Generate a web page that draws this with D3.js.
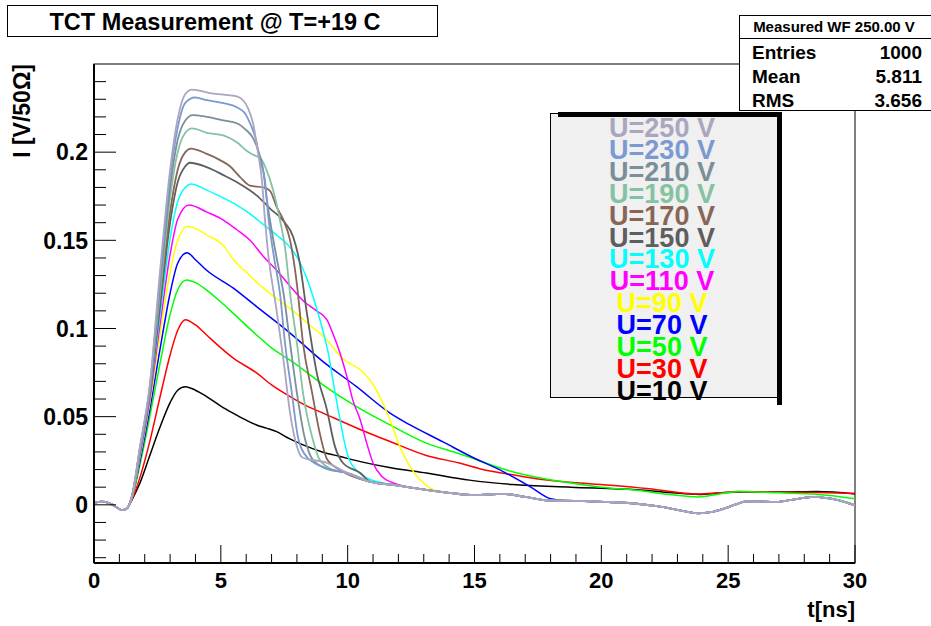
<!DOCTYPE html>
<html>
<head>
<meta charset="utf-8">
<script src="https://cdn.jsdelivr.net/npm/d3@7"></script>
<style>
  body { margin: 0; background: #fff; }
  text { font-family: "Liberation Sans", Arial, Helvetica, sans-serif; font-weight: bold; }
</style>
</head>
<body>
<div class="chartWrap"></div>
<script>
//Data: t in ns, I in V/50 Ohm
const voltages = [10, 30, 50, 70, 90, 110, 130, 150, 170, 190, 210, 230, 250];
const colors = ["#000000", "#ff0000", "#00ff00", "#0000ff", "#ffff00", "#ff00ff", "#00ffff",
                "#5e5e5e", "#876656", "#85c2a3", "#7a8f99", "#7d99d1", "#aba6bf"];

//shared pre-pulse part and shared tail of the fast (high voltage) curves
const lead = [[0,0.001],[0.3,0.0018],[0.6,0.001],[0.9,-0.0015],[1.1,-0.003],[1.3,-0.002]];
const bundle = [[8.2,0.027],[9.2,0.0237],[10.0,0.018],[10.9,0.013],[11.8,0.0113],[12.5,0.0098],[13.1,0.0085],
  [14.0,0.0068],[15.0,0.0055],[16.1,0.0062],[17.0,0.0045],[17.9,0.0025],[19.0,0.0022],[20.1,0.0017],
  [21.4,0.0006],[22.2,-0.0008],[22.8,-0.0023],[23.4,-0.004],[23.85,-0.0048],[24.3,-0.0042],[24.8,-0.0023],
  [25.3,0.0002],[25.7,0.0019],[26.2,0.002],[26.8,0.0015],[27.5,0.0028],[28.35,0.0045],[28.9,0.0038],
  [29.4,0.0024],[30,-0.0003]];

const u10 = [[1.5,0.003],[1.8,0.012],[2.2,0.028],[2.6,0.044],[3.0,0.058],[3.3,0.065],[3.6,0.067],[4.0,0.065],
  [4.44,0.0614],[5.0,0.056],[5.48,0.052],[6.0,0.048],[6.41,0.0453],[6.8,0.0435],[7.2,0.0415],[7.7,0.0375],
  [8.24,0.034],[9.0,0.030],[9.7,0.0274],[10.5,0.0245],[11.7,0.021],[13.1,0.018],[14.8,0.014],[16.5,0.0115],
  [18.8,0.010],[21.4,0.0085],[22.8,0.0068],[23.85,0.0059],[24.6,0.0066],[25.4,0.0073],[27,0.0072],
  [28.5,0.0075],[30,0.0062]];
const u30 = [[1.5,0.003],[1.8,0.015],[2.2,0.036],[2.6,0.061],[3.0,0.085],[3.3,0.099],[3.6,0.105],[4.0,0.102],
  [4.44,0.0963],[5.0,0.089],[5.48,0.0833],[6.41,0.0748],[7.0,0.068],[7.73,0.0614],[8.4,0.056],[9.03,0.052],
  [10.35,0.0436],[11.67,0.0359],[13.1,0.028],[14.4,0.0237],[15.2,0.0205],[16.3,0.0175],[17.5,0.0147],
  [19,0.0125],[20.5,0.011],[21.8,0.0092],[22.8,0.0074],[23.8,0.0062],[24.6,0.0068],[25.4,0.0076],
  [27,0.0072],[28.5,0.007],[30,0.0065]];
const u50 = [[1.5,0.004],[1.8,0.022],[2.2,0.050],[2.6,0.080],[3.0,0.108],[3.3,0.122],[3.65,0.1275],[4.0,0.126],
  [4.44,0.1218],[5.0,0.115],[5.48,0.1087],[6.41,0.0963],[7.0,0.089],[7.73,0.082],[8.4,0.075],[9.03,0.068],
  [10.35,0.0557],[11.67,0.0453],[13.1,0.035],[14.4,0.029],[15.2,0.025],[16.2,0.020],[17.5,0.0155],
  [18.8,0.0124],[20,0.010],[21.4,0.0082],[22.6,0.006],[23.85,0.0045],[24.6,0.006],[25.4,0.0076],
  [27,0.0068],[28.5,0.006],[30,0.0034]];
const u70 = [[1.5,0.004],[1.8,0.024],[2.2,0.054],[2.6,0.088],[3.0,0.120],[3.3,0.137],[3.67,0.143],[4.0,0.139],
  [4.44,0.133],[5.48,0.123],[6.41,0.1124],[7.73,0.0974],[9.03,0.0812],[10.35,0.067],[11.67,0.052],
  [12.46,0.0453],[13.76,0.0357],[14.8,0.0278],[16.15,0.0187],[17.2,0.0102],[18.0,0.0034],[18.6,0.0023]];
const u90 = [[1.5,0.004],[1.8,0.026],[2.2,0.058],[2.6,0.096],[3.0,0.132],[3.3,0.150],[3.7,0.158],[4.45,0.153],
  [5.1,0.147],[5.5,0.139],[6.0,0.132],[6.54,0.1246],[7.2,0.117],[7.85,0.110],[8.5,0.102],[9.18,0.0935],
  [9.8,0.083],[10.5,0.0765],[10.88,0.0708],[11.27,0.0614],[11.67,0.048],[12.06,0.033],[12.46,0.0217],
  [12.85,0.0142],[13.24,0.0096],[13.9,0.0068]];
const u110 = [[1.5,0.005],[1.8,0.027],[2.2,0.060],[2.6,0.102],[3.0,0.142],[3.3,0.162],[3.75,0.170],[4.45,0.166],
  [5.1,0.1615],[5.63,0.156],[6.15,0.150],[6.67,0.141],[7.2,0.133],[7.73,0.124],[8.3,0.115],[8.78,0.110],
  [9.18,0.105],[9.42,0.097],[9.7,0.086],[9.97,0.0727],[10.2,0.0595],[10.5,0.048],[10.75,0.035],
  [11.0,0.0237],[11.35,0.016],[11.8,0.0124]];
const u130 = [[1.5,0.005],[1.8,0.028],[2.2,0.062],[2.6,0.107],[3.0,0.151],[3.3,0.172],[3.6,0.180],[3.82,0.182],
  [4.45,0.1785],[5.1,0.174],[5.63,0.170],[6.15,0.165],[6.67,0.159],[7.2,0.153],[7.73,0.146],[8.1,0.138],
  [8.4,0.128],[8.7,0.115],[9.0,0.100],[9.25,0.085],[9.45,0.068],[9.65,0.052],[9.85,0.037],[10.05,0.026],
  [10.4,0.019],[10.75,0.0152]];
const u150 = [[1.5,0.005],[1.8,0.029],[2.2,0.063],[2.6,0.112],[3.0,0.160],[3.3,0.183],[3.6,0.192],[3.78,0.194],
  [4.44,0.1915],[5.1,0.187],[5.75,0.182],[6.41,0.1755],[6.94,0.168],[7.47,0.161],[7.85,0.152],[8.1,0.138],
  [8.4,0.108],[8.78,0.075],[9.18,0.054],[9.5,0.033],[9.8,0.024],[10.5,0.018]];
const u170 = [[1.5,0.005],[1.8,0.030],[2.2,0.064],[2.6,0.116],[3.0,0.166],[3.3,0.190],[3.6,0.200],[3.82,0.202],
  [4.45,0.199],[4.97,0.1955],[5.36,0.192],[5.75,0.186],[6.15,0.181],[6.67,0.180],[6.94,0.178],[7.2,0.169],
  [7.47,0.1615],[7.73,0.150],[8.0,0.125],[8.24,0.0917],[8.6,0.0634],[8.9,0.0406],[9.2,0.0255],[9.7,0.0198]];
const u190 = [[1.5,0.005],[1.8,0.030],[2.2,0.065],[2.6,0.120],[3.0,0.174],[3.3,0.200],[3.6,0.211],[3.86,0.2135],
  [4.45,0.211],[5.1,0.2095],[5.63,0.2056],[6.0,0.201],[6.35,0.198],[6.54,0.197],[6.8,0.19],[7.06,0.1785],
  [7.33,0.1615],[7.53,0.146],[7.73,0.120],[8.0,0.0917],[8.24,0.0634],[8.6,0.0385],[8.9,0.0255],[9.42,0.0198]];
const u210 = [[1.5,0.005],[1.8,0.031],[2.2,0.066],[2.6,0.124],[3.0,0.180],[3.3,0.207],[3.6,0.218],[3.9,0.221],
  [4.45,0.22],[5.1,0.218],[5.63,0.2164],[6.0,0.2125],[6.27,0.208],[6.47,0.201],[6.67,0.19],[6.8,0.1745],
  [7.0,0.156],[7.2,0.14],[7.47,0.120],[7.73,0.0917],[8.0,0.0634],[8.3,0.0385],[8.63,0.0255],[9.18,0.0204]];
const u230 = [[1.5,0.005],[1.8,0.031],[2.2,0.067],[2.6,0.128],[3.0,0.186],[3.3,0.214],[3.6,0.228],[3.98,0.231],
  [4.45,0.2295],[5.1,0.2278],[5.63,0.2255],[5.95,0.222],[6.15,0.2164],[6.39,0.2068],[6.54,0.1955],
  [6.74,0.184],[6.86,0.165],[7.1,0.14],[7.33,0.120],[7.53,0.0917],[7.8,0.0634],[8.04,0.0385],[8.4,0.027],
  [9.03,0.0215]];
const u250 = [[1.5,0.005],[1.8,0.032],[2.2,0.068],[2.6,0.132],[3.0,0.190],[3.3,0.219],[3.6,0.233],[3.86,0.2355],
  [4.57,0.2335],[5.1,0.2326],[5.63,0.2316],[5.9,0.229],[6.07,0.225],[6.27,0.2164],[6.47,0.1994],
  [6.62,0.184],[6.74,0.1615],[6.85,0.1445],[7.2,0.11],[7.47,0.082],[7.73,0.052],[8.0,0.033],[8.2,0.027]];
const ownParts = [u10, u30, u50, u70, u90, u110, u130, u150, u170, u190, u210, u230, u250];

const xTickVals = [0, 5, 10, 15, 20, 25, 30];
const yTickVals = [0, 0.05, 0.1, 0.15, 0.2];
const yTickLabels = ["0", "0.05", "0.1", "0.15", "0.2"];
const statNames = ["Entries", "Mean", "RMS"];
const statValues = ["1000", "5.811", "3.656"];

//Layout
const width = 931, height = 626;
const frame = {left: 94, right: 855, top: 64, bottom: 563};

const svg = d3.select(".chartWrap").append("svg").attr("width", width).attr("height", height);

const x = d3.scaleLinear().domain([0, 30]).range([frame.left, frame.right]);
const y = d3.scaleLinear().domain([-0.033, 0.25]).range([frame.bottom, frame.top]);

//Frame
svg.append("rect").attr("x", frame.left).attr("y", frame.top)
  .attr("width", frame.right - frame.left).attr("height", frame.bottom - frame.top)
  .attr("fill", "none").attr("stroke", "#000").attr("stroke-width", 1);

//Curves: the first three have their own tail, the rest join the common tail
svg.append("clipPath").attr("id", "clip").append("rect")
  .attr("x", frame.left).attr("y", frame.top)
  .attr("width", frame.right - frame.left).attr("height", frame.bottom - frame.top);

const line = d3.line().x(d => x(d[0])).y(d => y(d[1])).curve(d3.curveMonotoneX);
const curves = ownParts.map((part, i) => {
  const lastT = part[part.length - 1][0];
  const tail = i < 3 ? [] : bundle.filter(d => d[0] > lastT + 0.3);
  return lead.concat(part, tail);
});

svg.append("g").attr("clip-path", "url(#clip)")
  .selectAll("path").data(curves).enter().append("path")
  .attr("d", line)
  .attr("fill", "none")
  .attr("stroke", (d, i) => colors[i])
  .attr("stroke-width", (d, i) => i >= 7 ? 1.8 : 1.5);

//Axes (ticks drawn by hand, ROOT style: inside the frame)
const gx = svg.append("g").attr("transform", "translate(0," + frame.bottom + ")");
gx.selectAll("line.tk").data(d3.range(0, 31, 1)).enter().append("line")
  .attr("x1", d => x(d)).attr("x2", d => x(d))
  .attr("y1", 0).attr("y2", d => d % 5 === 0 ? -18 : -9)
  .attr("stroke", "#000").attr("stroke-width", 1);
gx.append("line").attr("x1", frame.left).attr("x2", frame.right).attr("y1", 0).attr("y2", 0)
  .attr("stroke", "#000").attr("stroke-width", 2);
gx.selectAll("text.lab").data(xTickVals).enter().append("text")
  .attr("x", d => x(d)).attr("y", 25)
  .attr("text-anchor", "middle").attr("font-size", 22).text(d => d);

const yMinor = d3.range(-3, 25, 1).map(d => d / 100);
const gy = svg.append("g").attr("transform", "translate(" + frame.left + ",0)");
gy.selectAll("line.tk").data(yMinor).enter().append("line")
  .attr("y1", d => y(d)).attr("y2", d => y(d))
  .attr("x1", 0).attr("x2", d => Math.round(d * 100) % 5 === 0 ? 22 : 12)
  .attr("stroke", "#000").attr("stroke-width", 1);
gy.append("line").attr("x1", 0).attr("x2", 0).attr("y1", frame.top).attr("y2", frame.bottom)
  .attr("stroke", "#000").attr("stroke-width", 2);
gy.selectAll("text.lab").data(yTickVals).enter().append("text")
  .attr("x", -6).attr("y", d => y(d)).attr("dy", "0.36em")
  .attr("text-anchor", "end").attr("font-size", 23).text((d, i) => yTickLabels[i]);

//Axis titles
svg.append("text").text("t[ns]")
  .attr("x", frame.right).attr("y", 617)
  .attr("text-anchor", "end").attr("font-size", 22);
svg.append("text").text("I [V/50\u03A9]")
  .attr("transform", "translate(30," + frame.top + ") rotate(-90)")
  .attr("text-anchor", "end").attr("font-size", 23);

//Title box
svg.append("rect").attr("x", 7.5).attr("y", 5.5).attr("width", 430).attr("height", 31)
  .attr("fill", "#fff").attr("stroke", "#000");
svg.append("text").text("TCT Measurement @ T=+19 C")
  .attr("x", 215).attr("y", 30).attr("text-anchor", "middle").attr("font-size", 23.5);

//Stats box
const stats = svg.append("g");
stats.append("rect").attr("x", 739.5).attr("y", 15.5).attr("width", 200).attr("height", 95)
  .attr("fill", "#fff").attr("stroke", "#000");
stats.append("line").attr("x1", 739.5).attr("x2", 931).attr("y1", 38.5).attr("y2", 38.5).attr("stroke", "#000");
stats.append("text").text("Measured WF 250.00 V")
  .attr("x", 834).attr("y", 32).attr("text-anchor", "middle").attr("font-size", 15);
stats.selectAll("text.name").data(statNames).enter().append("text")
  .attr("x", 752).attr("y", (d, i) => 59 + i * 24).attr("font-size", 19).text(d => d);
stats.selectAll("text.val").data(statValues).enter().append("text")
  .attr("x", 922).attr("y", (d, i) => 59 + i * 24).attr("text-anchor", "end").attr("font-size", 19).text(d => d);

//Legend
const leg = svg.append("g");
leg.append("rect").attr("x", 550.5).attr("y", 113.5).attr("width", 227).attr("height", 284)
  .attr("fill", "#f0f0f0").attr("stroke", "#000");
leg.append("rect").attr("x", 558).attr("y", 112).attr("width", 224).attr("height", 5).attr("fill", "#000");
leg.append("rect").attr("x", 777).attr("y", 112).attr("width", 5).attr("height", 293).attr("fill", "#000");
const legOrder = d3.range(voltages.length - 1, -1, -1);
leg.selectAll("text").data(legOrder).enter().append("text")
  .attr("x", 662).attr("y", (d, i) => 137 + i * 21.9)
  .attr("text-anchor", "middle").attr("font-size", 27)
  .attr("fill", d => colors[d])
  .text(d => "U=" + voltages[d] + " V");
</script>
</body>
</html>
